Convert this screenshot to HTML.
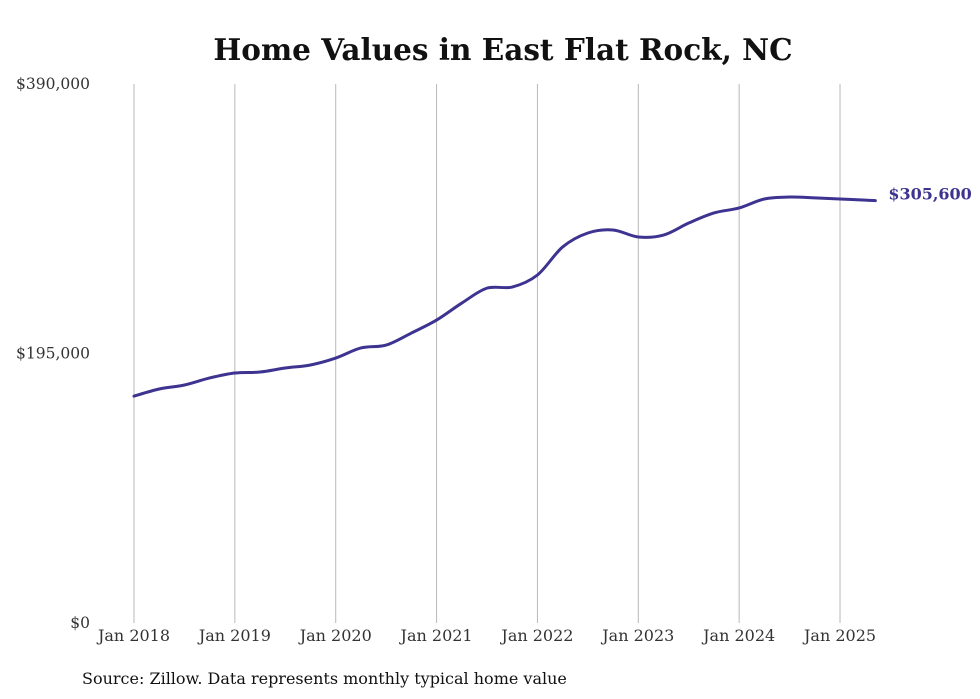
<!DOCTYPE html>
<html><head><meta charset="utf-8">
<style>
html,body{margin:0;padding:0;background:#fff;}
svg{display:block;font-family:"DejaVu Serif","Liberation Serif",serif;}
</style></head>
<body>
<svg id="chart" width="980" height="699" viewBox="0 0 980 699" xmlns="http://www.w3.org/2000/svg">
<text x="503" y="60" text-anchor="middle" font-size="29.5" font-weight="bold" fill="#111">Home Values in East Flat Rock, NC</text>
<g id="grid"></g>
<g id="yaxis"></g>
<g id="xaxis"></g>
<path id="line" fill="none" stroke="#3d3390" stroke-width="3" stroke-linejoin="round" stroke-linecap="round"/>
<text id="endlabel" font-size="16" font-weight="bold" fill="#3d3390"></text>
<text x="82" y="684" font-size="16" fill="#111">Source: Zillow. Data represents monthly typical home value</text>
</svg>
<script>
const yTicks = [0, 195000, 390000];
const yTickLabels = ["$0", "$195,000", "$390,000"];
const xTickYears = [2018, 2019, 2020, 2021, 2022, 2023, 2024, 2025];
const xTickLabels = ["Jan 2018","Jan 2019","Jan 2020","Jan 2021","Jan 2022","Jan 2023","Jan 2024","Jan 2025"];
const dates = [2018,2018.25,2018.5,2018.75,2019,2019.25,2019.5,2019.75,2020,2020.25,2020.5,2020.75,2021,2021.25,2021.5,2021.75,2022,2022.25,2022.5,2022.75,2023,2023.25,2023.5,2023.75,2024,2024.25,2024.5,2024.75,2025,2025.25,2025.35];
const values = [164200,169300,172200,177300,180900,181600,184500,186700,191700,199000,201100,209800,219200,231500,242300,243100,251800,272100,282200,284400,279300,280700,289400,296700,300300,306800,308200,307600,306800,306000,305600];
const latestLabel = "$305,600";

const NS = "http://www.w3.org/2000/svg";
const x = d => 134 + (d - 2018) * 100.86;
const y = v => 623 - v / 390000 * 539;

const grid = document.getElementById('grid');
const xaxis = document.getElementById('xaxis');
xTickYears.forEach((yr, i) => {
  const l = document.createElementNS(NS, 'line');
  
  
  l.setAttribute('x1', x(yr)); l.setAttribute('x2', x(yr));
  l.setAttribute('y1', 84); l.setAttribute('y2', 623);
  l.setAttribute('stroke', '#b8b8b8'); l.setAttribute('stroke-width', '1');
  grid.appendChild(l);
  const t = document.createElementNS(NS, 'text');
  
  
  t.setAttribute('x', x(yr)); t.setAttribute('y', 641);
  t.setAttribute('text-anchor', 'middle'); t.setAttribute('font-size', '16'); t.setAttribute('fill', '#333');
  t.textContent = xTickLabels[i];
  xaxis.appendChild(t);
});
const yaxis = document.getElementById('yaxis');
yTicks.forEach((v, i) => {
  const t = document.createElementNS(NS, 'text');
  
  
  t.setAttribute('x', 90); t.setAttribute('y', y(v) + 5);
  t.setAttribute('text-anchor', 'end'); t.setAttribute('font-size', '15.5'); t.setAttribute('fill', '#333');
  t.textContent = yTickLabels[i];
  yaxis.appendChild(t);
});

const pts = dates.map((d, i) => [x(d), y(values[i])]);
let dStr = `M${pts[0][0]},${pts[0][1]}`;
for (let i = 0; i < pts.length - 1; i++) {
  const p0 = pts[i - 1] || pts[i], p1 = pts[i], p2 = pts[i + 1], p3 = pts[i + 2] || p2;
  const c1 = [p1[0] + (p2[0] - p0[0]) / 6, p1[1] + (p2[1] - p0[1]) / 6];
  const c2 = [p2[0] - (p3[0] - p1[0]) / 6, p2[1] - (p3[1] - p1[1]) / 6];
  dStr += ` C${c1[0]},${c1[1]} ${c2[0]},${c2[1]} ${p2[0]},${p2[1]}`;
}
document.getElementById('line').setAttribute('d', dStr);
const last = pts[pts.length - 1];
const el = document.getElementById('endlabel');
el.setAttribute('x', last[0] + 13); el.setAttribute('y', last[1] - 1);
el.textContent = latestLabel;
</script>
</body></html>
